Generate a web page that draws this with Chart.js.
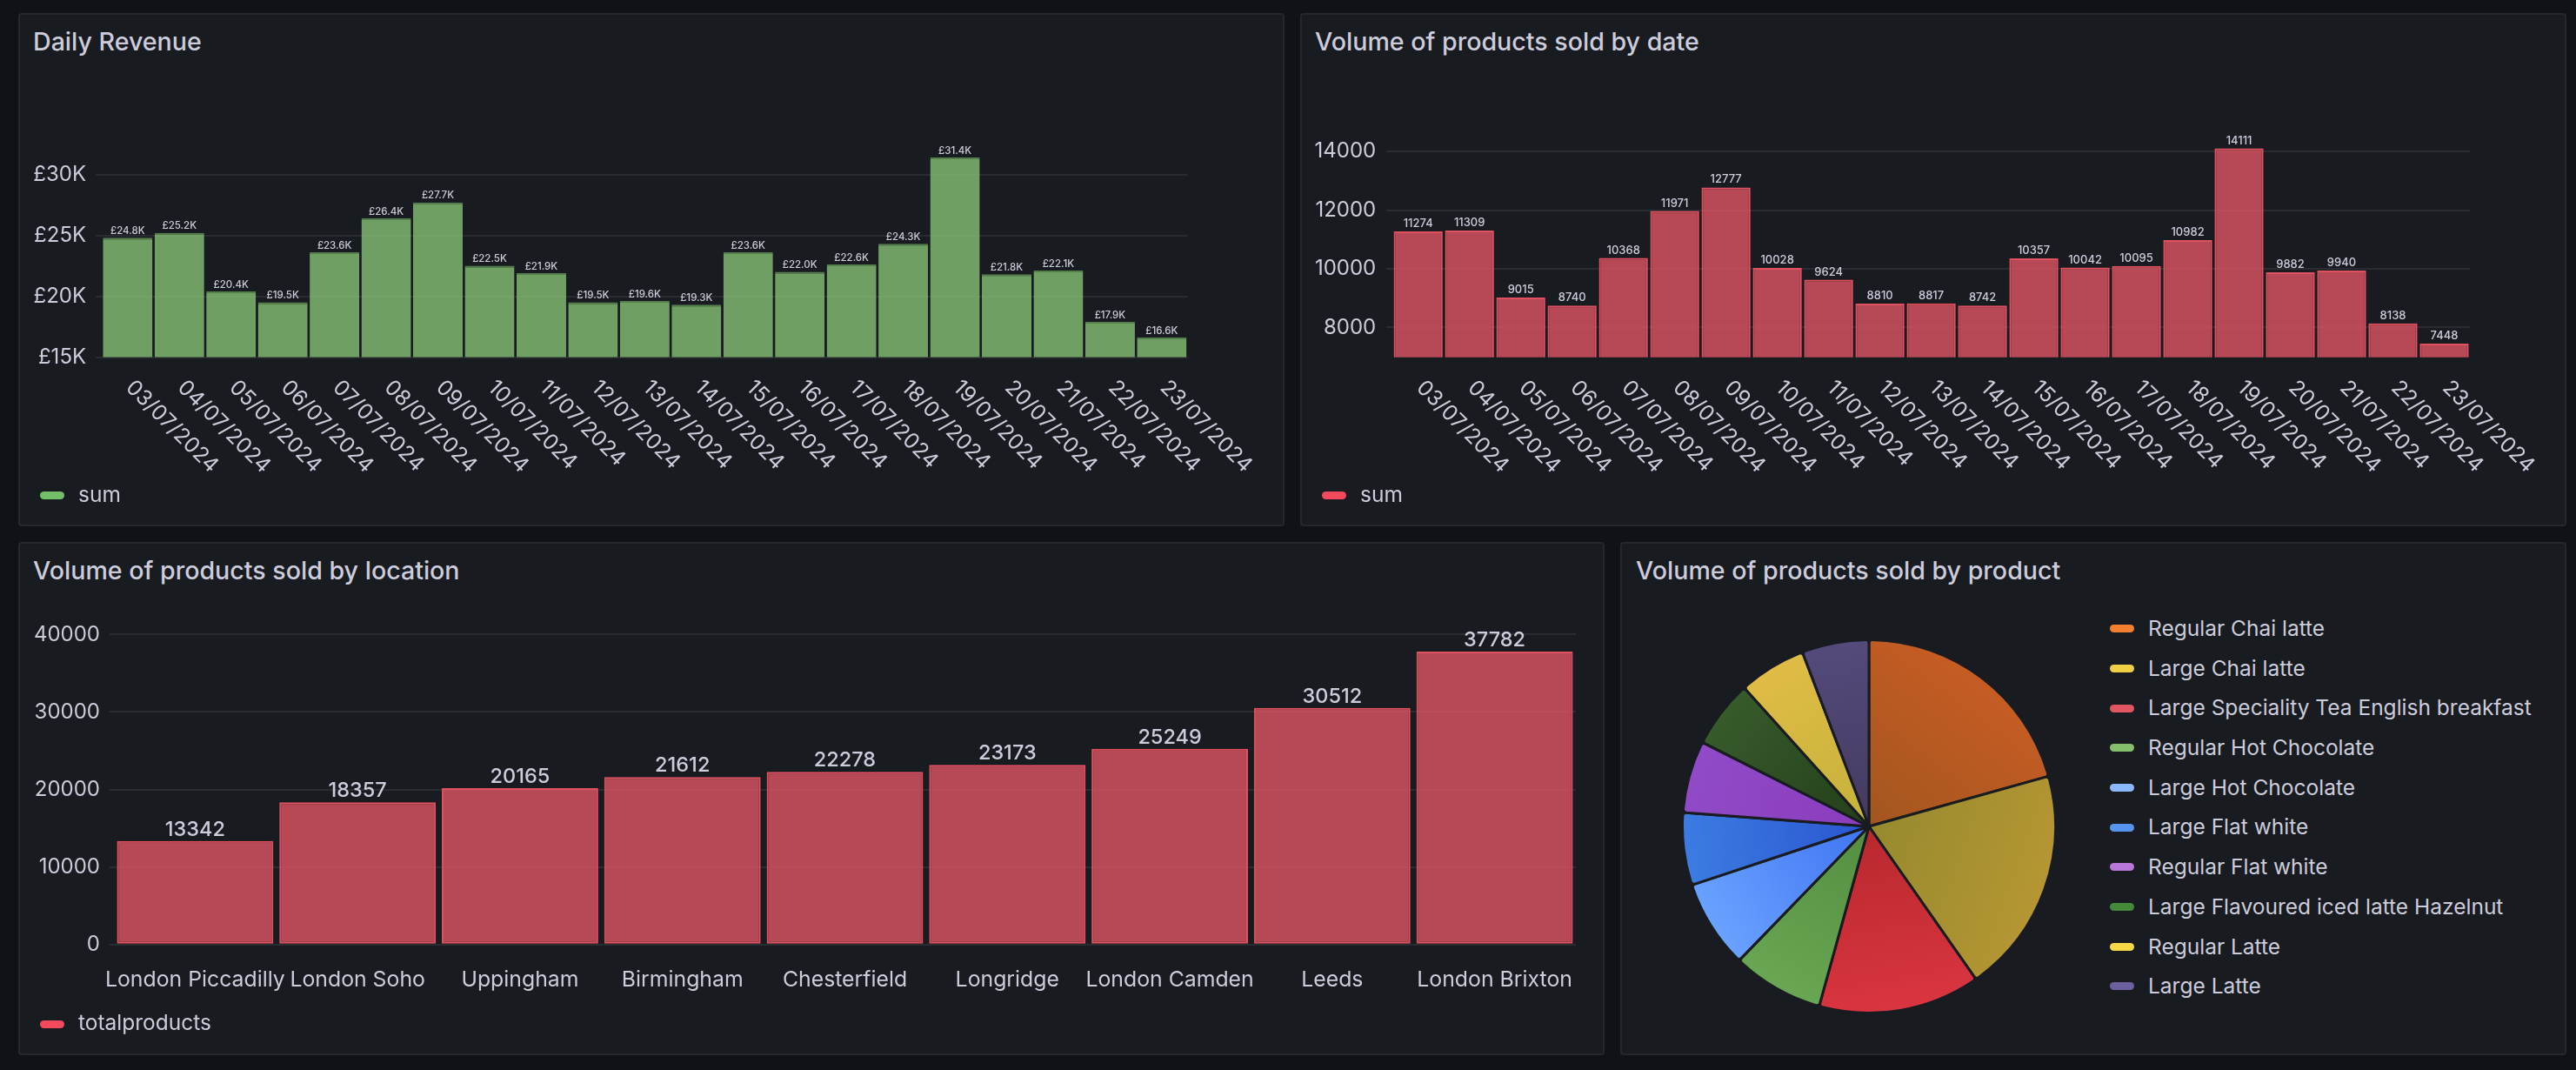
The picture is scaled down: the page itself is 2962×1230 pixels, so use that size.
<!DOCTYPE html>
<html><head><meta charset="utf-8">
<script src="https://cdn.jsdelivr.net/npm/chart.js@4.4.1/dist/chart.umd.min.js"></script>
<style>
html,body{margin:0;padding:0;background:#111217;width:2962px;height:1230px;overflow:hidden;font-family:Inter,"DejaVu Sans",sans-serif;}
.panel{position:absolute;box-sizing:border-box;background:#181b1f;border:2px solid #25272d;border-radius:4px;}
.title{position:absolute;font-size:28.6px;line-height:28px;font-weight:500;color:#ccccdc;white-space:nowrap;}
canvas{position:absolute;}
.sw{position:absolute;width:28px;height:9px;border-radius:4.5px;}
.lt{position:absolute;font-size:24.5px;line-height:24px;color:#ccccdc;white-space:nowrap;}
</style></head><body>
<div class="panel" style="left:21px;top:15px;width:1456px;height:590px"></div>
<div class="panel" style="left:1495px;top:15px;width:1456px;height:590px"></div>
<div class="panel" style="left:21px;top:623px;width:1824px;height:590px"></div>
<div class="panel" style="left:1863px;top:623px;width:1088px;height:590px"></div>

<div class="title" style="left:38px;top:34px">Daily Revenue</div>
<div class="title" style="left:1512px;top:34px">Volume of products sold by date</div>
<div class="title" style="left:38px;top:642px">Volume of products sold by location</div>
<div class="title" style="left:1881px;top:642px">Volume of products sold by product</div>

<canvas id="c1" width="1456" height="590" style="left:21px;top:15px"></canvas>
<canvas id="c2" width="1456" height="590" style="left:1495px;top:15px"></canvas>
<canvas id="c3" width="1824" height="590" style="left:21px;top:623px"></canvas>
<canvas id="c4" width="432" height="432" style="left:1933px;top:734px"></canvas>

<div class="sw" style="left:45.5px;top:565px;background:#73bf69"></div>
<div class="lt" style="left:90px;top:555.5px">sum</div>
<div class="sw" style="left:1519.5px;top:565px;background:#f2495c"></div>
<div class="lt" style="left:1564px;top:555.5px">sum</div>
<div class="sw" style="left:45.5px;top:1172.7px;background:#f2495c"></div>
<div class="lt" style="left:90px;top:1163.3px">totalproducts</div>
<div id="pieLegend"></div>

<script>
// ---------- data ----------
const dates = ['03/07/2024','04/07/2024','05/07/2024','06/07/2024','07/07/2024','08/07/2024','09/07/2024',
  '10/07/2024','11/07/2024','12/07/2024','13/07/2024','14/07/2024','15/07/2024','16/07/2024','17/07/2024',
  '18/07/2024','19/07/2024','20/07/2024','21/07/2024','22/07/2024','23/07/2024'];
const dailyRevenue = [24800,25200,20400,19500,23600,26400,27700,22500,21900,19500,19600,19300,23600,22000,22600,24300,31400,21800,22100,17900,16600];
const volumeByDate = [11274,11309,9015,8740,10368,11971,12777,10028,9624,8810,8817,8742,10357,10042,10095,10982,14111,9882,9940,8138,7448];
const locations = ['London Piccadilly','London Soho','Uppingham','Birmingham','Chesterfield','Longridge','London Camden','Leeds','London Brixton'];
const volumeByLocation = [13342,18357,20165,21612,22278,23173,25249,30512,37782];
const products = ['Regular Chai latte','Large Chai latte','Large Speciality Tea English breakfast','Regular Hot Chocolate',
  'Large Hot Chocolate','Large Flat white','Regular Flat white','Large Flavoured iced latte Hazelnut','Regular Latte','Large Latte'];
const productVolumes = [7440,7060,5050,2860,2760,2260,2250,2120,2110,2090];
const revenueTicks = [15000,20000,25000,30000];
const dateVolumeTicks = [8000,10000,12000,14000];
const locationTicks = [0,10000,20000,30000,40000];

// ---------- styles ----------
const TEXT = '#ccccdc';
const GRID = '#2a2c31';
const PANEL = '#181b1f';
const legendColors = ['#f2802e','#f0cf45','#e25563','#84bf6e','#8ab8ff','#5794f2','#b877d9','#448a3a','#f7d948','#6e5fa0'];
const sliceInner = ['#a2561f','#958a2e','#b8282e','#538e3e','#3f74f2','#2a55cf','#8a3cbc','#223f1a','#c4b13a','#44395f'];
const sliceOuter = ['#c65c24','#b69633','#da3540','#69a754','#6aa2ff','#3c7de2','#914bc7','#385b2b','#e0bc46','#544b7c'];

Chart.defaults.font.family = 'Inter, "DejaVu Sans", sans-serif';
Chart.defaults.color = TEXT;

function valueLabels(fmt, size, gap) {
  return { id: 'valueLabels', afterDatasetsDraw(chart) {
    const ctx = chart.ctx, meta = chart.getDatasetMeta(0), data = chart.data.datasets[0].data;
    ctx.save();
    ctx.font = '500 ' + size + 'px Inter';
    ctx.fillStyle = TEXT; ctx.textAlign = 'center'; ctx.textBaseline = 'alphabetic';
    meta.data.forEach((bar, i) => ctx.fillText(fmt(data[i]), bar.x, bar.y - gap));
    ctx.restore();
  }};
}
function slantedLabels(dx, dy) {
  return { id: 'slantedLabels', afterDraw(chart) {
    const ctx = chart.ctx, x = chart.scales.x, y = chart.scales.y;
    ctx.save();
    ctx.font = '24.6px Inter'; ctx.fillStyle = TEXT; ctx.textAlign = 'left'; ctx.textBaseline = 'middle';
    chart.data.labels.forEach((lab, i) => {
      ctx.save();
      ctx.translate(x.getPixelForValue(i) + dx, y.bottom + dy);
      ctx.rotate(Math.PI / 4);
      ctx.fillText(lab, 0, 0);
      ctx.restore();
    });
    ctx.restore();
  }};
}

function barChart(id, c) {
  return new Chart(document.getElementById(id), {
    type: 'bar',
    data: { labels: c.labels, datasets: [{ label: c.series, data: c.values,
      backgroundColor: c.fill, borderColor: c.border, borderWidth: c.borderWidth, borderSkipped: false,
      categoryPercentage: c.barFrac, barPercentage: 1 }] },
    options: {
      responsive: false, animation: false, events: [],
      layout: { padding: c.padding },
      plugins: { legend: { display: false }, tooltip: { enabled: false } },
      scales: {
        x: c.x,
        y: { type: 'linear', min: c.min, max: c.max, bounds: 'data',
          afterFit: s => { s.width = c.axisWidth; },
          afterBuildTicks: s => { s.ticks = c.ticks.map(v => ({ value: v })); },
          grid: { color: GRID, lineWidth: 2, drawTicks: true, tickLength: c.tickLen, tickColor: GRID },
          border: { display: false },
          ticks: { font: { size: 24 }, color: TEXT, padding: c.tickPad, callback: c.fmt } }
      }
    },
    plugins: c.plugins
  });
}

barChart('c1', {
  labels: dates, series: 'sum', values: dailyRevenue,
  fill: 'rgba(126,182,111,0.86)', border: '#55804d', borderWidth: { top: 2, left: 0, right: 0, bottom: 0 }, barFrac: 0.96,
  padding: { left: 0, top: 143.5, right: 111.4, bottom: 194.5 },
  x: { display: false },
  min: 15000, max: 33000, ticks: revenueTicks, axisWidth: 96.1, tickLen: 7, tickPad: 11,
  fmt: v => '£' + (v / 1000) + 'K',
  plugins: [valueLabels(v => '£' + (v / 1000).toFixed(1) + 'K', 11.5, 4.4), slantedLabels(2, 31)]
});

barChart('c2', {
  labels: dates, series: 'sum', values: volumeByDate,
  fill: 'rgba(210,82,95,0.86)', border: '#e0505e', borderWidth: 2, barFrac: 0.955,
  padding: { left: 0, top: 125.6, right: 111, bottom: 194.3 },
  x: { display: false },
  min: 6978, max: 15000, ticks: dateVolumeTicks, axisWidth: 106.2, tickLen: 7, tickPad: 12,
  fmt: v => String(v),
  plugins: [valueLabels(v => String(v), 13, 5), slantedLabels(2, 31)]
});

barChart('c3', {
  labels: locations, series: 'totalproducts', values: volumeByLocation,
  fill: 'rgba(210,82,95,0.86)', border: '#e0505e', borderWidth: 2, barFrac: 0.963,
  padding: { left: 0, top: 70.7, right: 33, bottom: 47.3 },
  x: { grid: { display: false, drawTicks: false }, border: { display: false },
       afterFit: s => { s.height = 80; },
       ticks: { font: { size: 24.8 }, color: TEXT, padding: 26.4, autoSkip: false, maxRotation: 0, minRotation: 0 } },
  min: 0, max: 44000, ticks: locationTicks, axisWidth: 110, tickLen: 5, tickPad: 11,
  fmt: v => String(v),
  plugins: [valueLabels(v => String(v), 23.5, 6)]
});

function sliceGradient(context) {
  const i = context.dataIndex;
  const chart = context.chart;
  const area = chart.chartArea;
  if (!area || i === undefined) return legendColors[i || 0];
  const data = chart.data.datasets[0].data;
  const total = data.reduce((a, b) => a + b, 0);
  let before = 0;
  for (let k = 0; k < i; k++) before += data[k];
  const mid = ((before + data[i] / 2) / total) * 2 * Math.PI - Math.PI / 2;
  const cx = (area.left + area.right) / 2, cy = (area.top + area.bottom) / 2;
  const r = Math.min(area.width, area.height) / 2;
  const g = chart.ctx.createLinearGradient(cx, cy, cx + r * Math.cos(mid), cy + r * Math.sin(mid));
  g.addColorStop(0, sliceInner[i]);
  g.addColorStop(1, sliceOuter[i]);
  return g;
}

new Chart(document.getElementById('c4'), {
  type: 'pie',
  data: { labels: products, datasets: [{ data: productVolumes, backgroundColor: sliceGradient,
    borderColor: PANEL, borderWidth: 3,
    borderRadius: { outerStart: 4, outerEnd: 4, innerStart: 0, innerEnd: 0 } }] },
  options: { responsive: false, animation: false, events: [], layout: { padding: 0 },
    plugins: { legend: { display: false }, tooltip: { enabled: false } } }
});

// pie legend
const pl = document.getElementById('pieLegend');
products.forEach((name, i) => {
  const cy = 722.7 + i * 45.69;
  const sw = document.createElement('div');
  sw.className = 'sw';
  sw.style.left = '2426px'; sw.style.top = (cy - 4.5) + 'px'; sw.style.background = legendColors[i];
  const t = document.createElement('div');
  t.className = 'lt';
  t.style.left = '2470px'; t.style.top = (cy - 12.7) + 'px';
  t.textContent = name;
  pl.appendChild(sw); pl.appendChild(t);
});
</script>
</body></html>
